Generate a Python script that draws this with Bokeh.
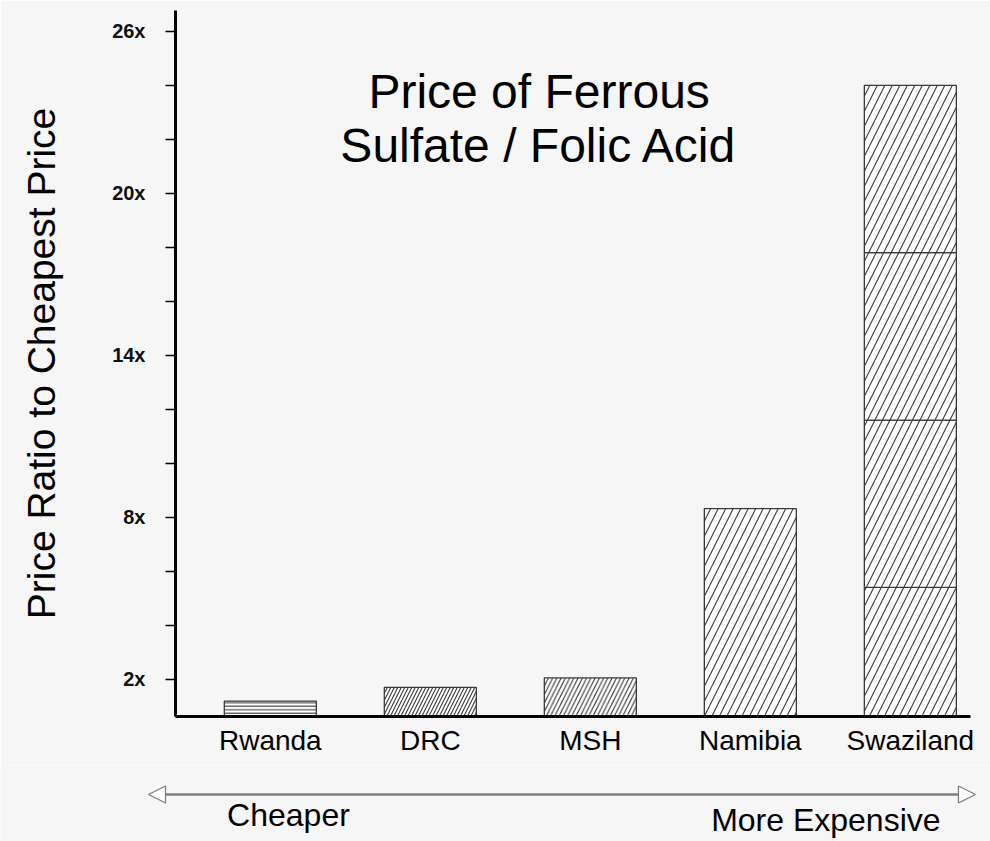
import numpy as np
from bokeh.plotting import figure
from bokeh.models import (Range1d, FixedTicker, Label, Arrow, NormalHead,
                          ColumnDataSource)
from bokeh.layouts import column
from bokeh.embed import file_html
from bokeh.resources import INLINE

# ---------------- data ----------------
countries = ["Rwanda", "DRC", "MSH", "Namibia", "Swaziland"]
price_ratio = [1.19, 1.70, 2.05, 8.32, 24.0]
swaziland_breaks = [5.4, 11.6, 17.8]
y_major_ticks = [2, 8, 14, 20, 26]
y_tick_labels = ["2x", "8x", "14x", "20x", "26x"]
y_minor_ticks = [4, 6, 10, 12, 16, 18, 22, 24]
title_lines = ["Price of Ferrous", "Sulfate / Folic Acid"]
y_label = "Price Ratio to Cheapest Price"
scale_ends = ["Cheaper", "More Expensive"]

# ---------------- style ----------------
BG = "#f6f6f6"
FONT = "Liberation Sans"
EDGE = "#3a3a3a"
hatches = ["-", "/", "/", "/", "/"]
hatch_scales = [3.5, 7.0, 8.5, 15.0, 15.0]
BAR_W = 0.575

idx = np.arange(len(countries))

p = figure(width=990, height=765,
           x_range=Range1d(-0.5925, 4.376), y_range=Range1d(0.62, 26.77),
           output_backend="svg", toolbar_location=None,
           min_border_left=175, min_border_right=20,
           min_border_top=10, min_border_bottom=49,
           background_fill_color=BG, border_fill_color=BG)
p.frame_align = False
p.outline_line_color = None
p.grid.visible = False

# bars except the stacked Swaziland one
n_single = len(countries) - 1
src = ColumnDataSource(dict(x=idx[:n_single], top=price_ratio[:n_single],
                            hatch=hatches[:n_single], hs=hatch_scales[:n_single]))
p.vbar(x="x", top="top", bottom=0, width=BAR_W, source=src,
       fill_color="white", line_color=EDGE, line_width=1.3,
       hatch_pattern="hatch", hatch_scale="hs", hatch_color=EDGE, hatch_weight=1.1)

# Swaziland drawn as stacked segments
bottoms = [0] + swaziland_breaks
tops = swaziland_breaks + [price_ratio[-1]]
src2 = ColumnDataSource(dict(x=[idx[-1]] * len(tops), top=tops, bottom=bottoms))
p.vbar(x="x", top="top", bottom="bottom", width=BAR_W, source=src2,
       fill_color="white", line_color=EDGE, line_width=1.3,
       hatch_pattern=hatches[-1], hatch_scale=hatch_scales[-1],
       hatch_color=EDGE, hatch_weight=1.1)

# axes
ya = p.yaxis[0]
ya.ticker = FixedTicker(ticks=y_major_ticks, minor_ticks=y_minor_ticks)
ya.major_label_overrides = {t: l for t, l in zip(y_major_ticks, y_tick_labels)}
ya.axis_line_width = 3
ya.axis_line_color = "black"
ya.major_tick_in = 0
ya.major_tick_out = 10
ya.minor_tick_in = 0
ya.minor_tick_out = 10
ya.major_tick_line_width = 1.5
ya.minor_tick_line_width = 1.5
ya.major_tick_line_color = "black"
ya.minor_tick_line_color = "black"
ya.major_label_standoff = 20
ya.major_label_text_font = FONT
ya.major_label_text_font_size = "20px"
ya.major_label_text_font_style = "bold"
ya.major_label_text_color = "#111111"
ya.axis_label = y_label
ya.axis_label_text_font = FONT
ya.axis_label_text_font_size = "39px"
ya.axis_label_text_font_style = "normal"
ya.axis_label_text_color = "black"
ya.axis_label_standoff = 46

xa = p.xaxis[0]
xa.ticker = FixedTicker(ticks=[int(i) for i in idx])
xa.major_label_overrides = {int(i): c for i, c in zip(idx, countries)}
xa.axis_line_width = 3
xa.axis_line_color = "black"
xa.major_tick_line_color = None
xa.minor_tick_line_color = None
xa.major_tick_out = 0
xa.major_tick_in = 0
xa.major_label_standoff = 8
xa.major_label_text_font = FONT
xa.major_label_text_font_size = "28px"
xa.major_label_text_color = "black"

# title (two lines)
for line, yv in zip(title_lines, [23.77, 21.77]):
    p.add_layout(Label(x=1.68, y=yv, text=line, text_align="center",
                       text_baseline="middle", text_font=FONT,
                       text_font_size="48px", text_color="black"))

# ---------------- cheaper / more expensive strip ----------------
q = figure(width=990, height=76,
           x_range=Range1d(-1.686, 4.501), y_range=Range1d(0, 76),
           x_axis_type=None, y_axis_type=None,
           output_backend="svg", toolbar_location=None, min_border=0,
           background_fill_color=BG, border_fill_color=BG)
q.frame_align = False
q.outline_line_color = None
q.grid.visible = False

ARROW_C = "#7f7f7f"
q.add_layout(Arrow(x_start=idx[0] - 0.761, y_start=47,
                   x_end=idx[-1] + 0.407, y_end=47,
                   line_color=ARROW_C, line_width=2.5,
                   start=NormalHead(size=17, fill_color="white", line_color=ARROW_C, line_width=1.3),
                   end=NormalHead(size=17, fill_color="white", line_color=ARROW_C, line_width=1.3)))
q.add_layout(Label(x=idx[0] - 0.27, y=26.2, text=scale_ends[0], text_align="left",
                   text_baseline="middle", text_font=FONT,
                   text_font_size="32px", text_color="black"))
q.add_layout(Label(x=idx[-1] + 0.189, y=22.0, text=scale_ends[1], text_align="right",
                   text_baseline="middle", text_font=FONT,
                   text_font_size="32px", text_color="black"))

layout = column(p, q, spacing=0)
html = file_html(layout, INLINE)
html = html.replace("<body>", '<body style="background:%s">' % BG, 1)
open("out.html", "w").write(html)
